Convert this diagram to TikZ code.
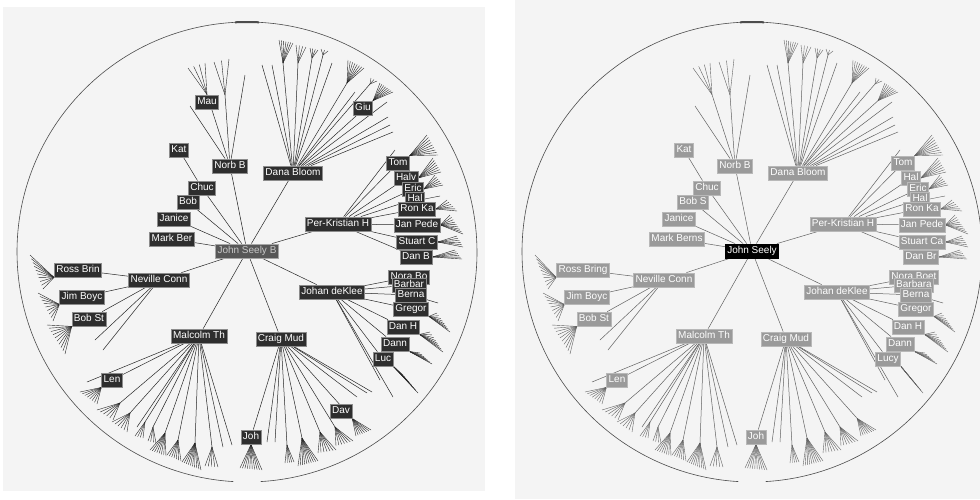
\documentclass[tikz,border=0pt]{standalone}
\usepackage{fontspec}
\newfontfamily\labfont{Liberation Sans}
\usetikzlibrary{calc}
\pgfdeclarelayer{back}
\pgfsetlayers{back,main}
\definecolor{paper}{HTML}{F4F4F4}
\definecolor{boxdark}{HTML}{2E2E2E}
\definecolor{boxgrey}{HTML}{9A9A9A}

% fan of leaves: junction, first tip, last tip, number of gaps
\newcommand\fan[4]{%
  \foreach \k in {0,...,#4}
    \draw[twig] (#1) -- ($(#2)!\k/#4!(#3)$);}
% child junction with its own fan: parent, name, junction, first tip, last tip, gaps
\newcommand\sub[6]{%
  \coordinate (#2) at (#3);
  \draw[edge] (#1) -- (#2);
  \fan{#2}{#4}{#5}{#6}}

\newcommand\panel{%
  \coordinate (hub) at (247,252);
  \node[root] (seely) at (247,251) {\tRoot};
  \node[lab] (mark) at (172,239) {\tMark};
  \node[lab] (janice) at (174,219) {Janice};
  \node[lab] (bob) at (188,202) {\tBob};
  \node[lab] (chuc) at (202,188) {Chuc};
  \node[lab] (kat) at (179,150) {Kat};
  \node[lab] (norb) at (230,166) {Norb B};
  \node[minor] (mau) at (207,102) {Mau};
  \node[lab] (dana) at (293,173) {Dana Bloom};
  \node[minor] (giu) at (363,108) {Giu};
  \node[lab] (per) at (338,224) {Per-Kristian H};
  \node[lab] (tom) at (398,163) {Tom};
  \node[lab] (halv) at (406,178) {\tHalv};
  \node[lab] (eric) at (413,189) {Eric};
  \node[lab] (hal) at (415,199) {Hal};
  \node[lab] (ron) at (417,209) {Ron Ka};
  \node[lab] (jan) at (417,225) {Jan Pede};
  \node[lab] (stuart) at (417,242) {\tStuart};
  \node[lab] (danb) at (416,257) {\tDanB};
  \node[lab] (ross) at (78,270) {\tRoss};
  \node[lab] (neville) at (159,280) {Neville Conn};
  \node[lab] (jim) at (82,297) {Jim Boyc};
  \node[lab] (bobst) at (89,319) {Bob St};
  \node[lab] (nora) at (409,277) {\tNora};
  \node[lab] (barb) at (409,285) {\tBarb};
  \node[lab] (berna) at (411,295) {Berna};
  \node[lab] (gregor) at (411,309) {Gregor};
  \node[lab] (johan) at (332,292) {Johan deKlee};
  \node[lab] (danh) at (403,327) {Dan H};
  \node[lab] (dann) at (395,344) {Dann};
  \node[lab] (luc) at (383,359) {\tLuc};
  \node[lab] (malcolm) at (199,336) {Malcolm Th};
  \node[lab] (craig) at (281,339) {Craig Mud};
  \node[lab] (len) at (112,380) {Len};
  \node[minor] (dav) at (341,411) {Dav};
  \node[lab] (joh) at (251,437) {Joh};
  \begin{pgfonlayer}{back}
  \draw[rim] (hub) ++(-86.6:230pt) arc[start angle=-86.6,end angle=266.6,radius=230pt];
  \draw[rim,line width=2pt] (hub) ++(87:230pt) arc[start angle=87,end angle=93,radius=230pt];
  \foreach \c in {mark,janice,bob,chuc,norb,dana,per,johan,craig,malcolm,neville}
    \draw[edge] (seely) -- (\c);
  \draw[edge] (chuc) -- (kat);
  % Norb B
  \draw[edge] (norb) -- (mau.north);
  \fan{mau.north}{188,68}{205,63}{3}
  \foreach \p in {(190,106),(245,75)} \draw[edge] (norb) -- \p;
  \sub{norb}{n1}{225,95}{214,62}{229,59}{2}
  % Dana Bloom
  \foreach \p in {(262,65),(272,65),(332,63),(355,92),(387,102),(388,117),(390,125),(393,132)}
    \draw[edge] (dana) -- \p;
  \sub{dana}{d1}{283,63}{279,40}{293,43}{6}
  \sub{dana}{d2}{298,63}{296,45}{306,47}{3}
  \sub{dana}{d3}{312,58}{310,48}{318,50}{3}
  \sub{dana}{d4}{323,55}{321,49}{328,51}{2}
  \sub{dana}{d5}{347,83}{348,60}{364,68}{7}
  \sub{dana}{d6}{370,84}{371,78}{377,81}{2}
  \draw[edge] (dana) -- (giu.north east);
  \fan{giu.north east}{380,83}{393,92}{7}
  % Per-Kristian H
  \foreach \c in {tom,halv,eric,hal,ron,jan,stuart,danb} \draw[edge] (per) -- (\c);
  \draw[edge] (per) -- (395,150);
  \fan{tom.north east}{427,135}{438,155}{8}
  \fan{halv.east}{433,158}{441,172}{6}
  \fan{eric.east}{435,175}{443,185}{5}
  \draw[twig] (hal.east) -- (440,196);
  \fan{ron.east}{447,200}{457,211}{5}
  \fan{jan.east}{450,215}{463,234}{8}
  \fan{stuart.east}{457,236}{463,247}{5}
  \fan{danb.east}{455,250}{462,259}{5}
  % Johan deKlee
  \foreach \c in {nora,barb,berna,gregor,danh,dann,luc} \draw[edge] (johan) -- (\c);
  \foreach \p in {(380,380),(393,397)} \draw[edge] (johan) -- \p;
  \draw[edge] (berna) -- (438,303);
  \fan{gregor.south east}{437,313}{450,332}{7}
  \fan{danh.south east}{430,332}{443,352}{7}
  \fan{dann.south east}{420,353}{432,364}{6}
  \fan{luc.south east}{403,375}{418,393}{7}
  % Neville Conn
  \foreach \c in {ross,jim,bobst} \draw[edge] (neville) -- (\c);
  \foreach \p in {(95,340),(103,350)} \draw[edge] (neville) -- \p;
  \fan{ross.south west}{30,255}{43,289}{9}
  \fan{jim.south west}{38,293}{53,321}{8}
  \fan{bobst.south west}{47,325}{65,354}{9}
  % Malcolm Th
  \draw[edge] (malcolm) -- (len);
  \fan{len.south west}{80,392}{97,404}{7}
  \foreach \p in {(87,382),(137,427),(223,447),(232,445)} \draw[edge] (malcolm) -- \p;
  \sub{malcolm}{m1}{120,403}{97,410}{113,420}{5}
  \sub{malcolm}{m2}{130,413}{112,422}{127,432}{5}
  \sub{malcolm}{m3}{145,422}{135,436}{143,438}{3}
  \sub{malcolm}{m4}{153,427}{148,441}{156,443}{3}
  \sub{malcolm}{m5}{165,433}{150,450}{166,456}{7}
  \sub{malcolm}{m6}{178,440}{167,455}{181,461}{6}
  \sub{malcolm}{m7}{195,443}{182,462}{201,470}{9}
  \sub{malcolm}{m8}{212,447}{205,466}{218,467}{4}
  % Craig Mud
  \draw[edge] (craig) -- (joh);
  \fan{joh.south}{240,468}{262,470}{9}
  \foreach \p in {(267,442),(275,442),(357,397),(367,393),(372,392)} \draw[edge] (craig) -- \p;
  \sub{craig}{c1}{287,445}{285,463}{294,462}{4}
  \sub{craig}{c2}{302,438}{298,466}{318,461}{9}
  \sub{craig}{c3}{320,432}{318,453}{336,450}{6}
  \sub{craig}{c4}{335,427}{336,446}{353,441}{6}
  \draw[edge] (craig) -- (dav.south east);
  \fan{dav.south east}{356,436}{371,430}{7}
  \end{pgfonlayer}}

\begin{document}
\begin{tikzpicture}[x=1pt, y=-1pt, line cap=round,
  lbox/.style={rectangle, inner xsep=2pt, inner ysep=2.5pt, text height=7.2pt, text depth=2pt,
    font=\labfont\fontsize{10}{11}\selectfont, line width=.6pt},
  rim/.style={draw=black!70, line width=.6pt}]
  \useasboundingbox (0,0) rectangle (980,499);
  \begin{pgfonlayer}{back}
    \fill[white] (0,0) rectangle (980,499);
    \fill[paper] (3,7) rectangle (485,491);
    \fill[paper] (515,0) rectangle (980,499);
  \end{pgfonlayer}
  % left view
  \begin{scope}[lab/.style={lbox, fill=boxdark, draw=black!45, text=white},
    root/.style={lbox, fill=black!66, draw=black!35, text=black!22},
    minor/.style={lab},
    edge/.style={draw=black!85, line width=.5pt},
    twig/.style={draw=black!85, line width=.4pt}]
    \def\tRoot{John Seely B}\def\tMark{Mark Ber}\def\tBob{Bob}\def\tHalv{Halv}
    \def\tStuart{Stuart C}\def\tDanB{Dan B}\def\tRoss{Ross Brin}\def\tNora{Nora Bo}
    \def\tBarb{Barbar}\def\tLuc{Luc}
    \panel
  \end{scope}
  % right view
  \begin{scope}[xshift=505pt,
    lab/.style={lbox, fill=boxgrey, draw=black!28, text=white},
    root/.style={lbox, fill=black, draw=black, text=white},
    minor/.style={lbox, opacity=0, text opacity=0},
    edge/.style={draw=black!62, line width=.5pt},
    twig/.style={draw=black!62, line width=.4pt}]
    \def\tRoot{John Seely}\def\tMark{Mark Berns}\def\tBob{Bob S}\def\tHalv{Hal}
    \def\tStuart{Stuart Ca}\def\tDanB{Dan Br}\def\tRoss{Ross Bring}\def\tNora{Nora Boet}
    \def\tBarb{Barbara}\def\tLuc{Lucy}
    \panel
  \end{scope}
\end{tikzpicture}
\end{document}
